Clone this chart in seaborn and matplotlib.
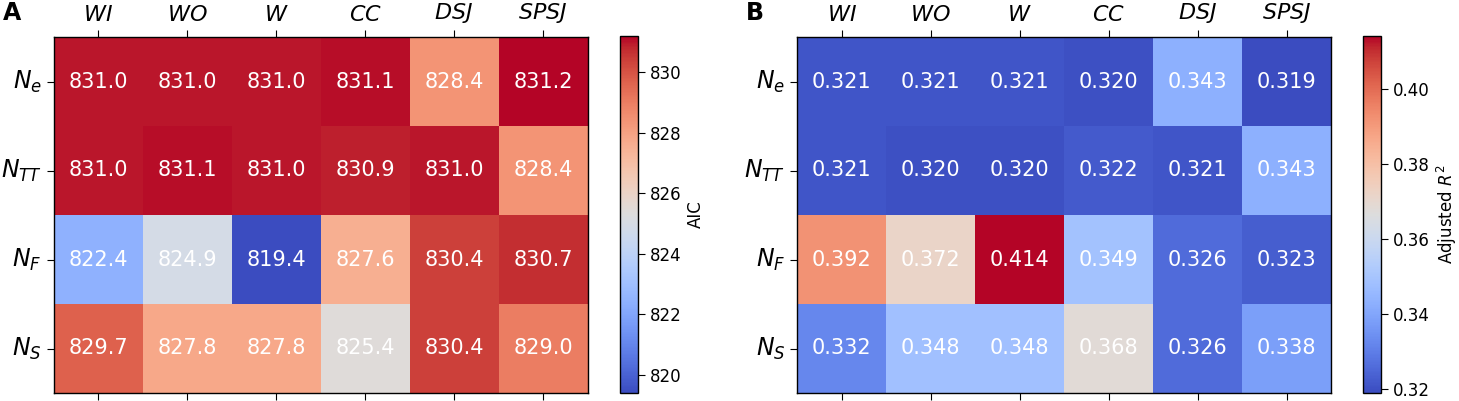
import numpy as np
import pandas as pd
import matplotlib
matplotlib.use("Agg")
import matplotlib.pyplot as plt
import seaborn as sns

models = ["WI", "WO", "W", "CC", "DSJ", "SPSJ"]
model_labels = ["$WI$", "$WO$", "$W$", "$CC$", "$DSJ$", "$SPSJ$"]
rows = ["$N_e$", "$N_{TT}$", "$N_F$", "$N_S$"]

aic_Ne = [831.0, 831.0, 831.0, 831.1, 828.4, 831.2]
aic_NTT = [831.0, 831.1, 831.0, 830.9, 831.0, 828.4]
aic_NF = [822.4, 824.9, 819.4, 827.6, 830.4, 830.7]
aic_NS = [829.7, 827.8, 827.8, 825.4, 830.4, 829.0]

r2_Ne = [0.321, 0.321, 0.321, 0.320, 0.343, 0.319]
r2_NTT = [0.321, 0.320, 0.320, 0.322, 0.321, 0.343]
r2_NF = [0.392, 0.372, 0.414, 0.349, 0.326, 0.323]
r2_NS = [0.332, 0.348, 0.348, 0.368, 0.326, 0.338]

aic = pd.DataFrame([aic_Ne, aic_NTT, aic_NF, aic_NS], index=rows, columns=model_labels)
r2 = pd.DataFrame([r2_Ne, r2_NTT, r2_NF, r2_NS], index=rows, columns=model_labels)

plt.rcParams['font.family'] = ['DejaVu Sans']
fig = plt.figure(figsize=(14.59, 4.01), dpi=100)

W, H = 1459, 401
def frac(x0, y0, x1, y1):
    return [x0 / W, 1 - y1 / H, (x1 - x0) / W, (y1 - y0) / H]

axA = fig.add_axes(frac(53.5, 37, 587.5, 393))
caxA = fig.add_axes(frac(620, 36, 638, 393))
axB = fig.add_axes(frac(797, 37, 1331, 393))
caxB = fig.add_axes(frac(1363, 36, 1381, 393))

def draw(ax, cax, df, fmt, label):
    sns.heatmap(df, ax=ax, cbar_ax=cax, cmap="coolwarm", annot=True, fmt=fmt,
                annot_kws={"color": "white", "fontsize": 15},
                cbar_kws={"label": label})
    for s in ax.spines.values():
        s.set_visible(True)
        s.set_linewidth(1.0)
        s.set_color("black")
    ax.tick_params(axis="x", top=True, labeltop=True, bottom=True, labelbottom=False,
                   labelsize=16, length=5, rotation=0)
    ax.tick_params(axis="y", left=True, labelsize=17, length=5, rotation=0)
    ax.set_xlabel("")
    ax.set_ylabel("")
    cb = ax.collections[0].colorbar
    cb.outline.set_visible(True)
    cb.outline.set_linewidth(1.0)
    cb.outline.set_edgecolor("black")
    cax.tick_params(labelsize=12, length=5)
    cb.set_label(label, fontsize=12)

draw(axA, caxA, aic, ".1f", "AIC")
draw(axB, caxB, r2, ".3f", "Adjusted $R^2$")

fig.text(3 / W, 1 - 13 / H, "A", fontsize=17, fontweight="bold", va="center", ha="left")
fig.text(746 / W, 1 - 13 / H, "B", fontsize=17, fontweight="bold", va="center", ha="left")

fig.savefig("out.png", dpi=100)
